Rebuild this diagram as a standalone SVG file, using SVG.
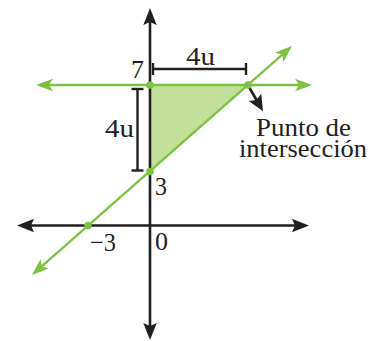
<svg xmlns="http://www.w3.org/2000/svg" width="375" height="341" viewBox="0 0 375 341">
<style>
.ax{stroke:#231f20;stroke-width:2.6;fill:none}
.gl{stroke:#7cc142;stroke-width:2.3;fill:none}
.dim{stroke:#231f20;stroke-width:2.4;fill:none}
.dot{fill:#7cc142}
text{font-family:"Liberation Serif","Times New Roman",serif;font-size:26px;fill:#231f20}
</style>
<defs>
<marker id="ak" viewBox="-18 -7 19 14" refX="-8" refY="0" markerWidth="19" markerHeight="14" markerUnits="userSpaceOnUse" orient="auto-start-reverse">
<path d="M0,0 L-17,-6.7 L-14,0 L-17,6.7 Z" fill="#231f20"/>
</marker>
<marker id="ag" viewBox="-18 -7 19 14" refX="-8" refY="0" markerWidth="19" markerHeight="14" markerUnits="userSpaceOnUse" orient="auto-start-reverse">
<path d="M0,0 L-17,-6.3 L-13,0 L-17,6.3 Z" fill="#7cc142"/>
</marker>
<marker id="ap" viewBox="-17 -8 18 16" refX="-6" refY="0" markerWidth="18" markerHeight="16" markerUnits="userSpaceOnUse" orient="auto">
<path d="M0,0 L-16,-7.2 L-13,0 L-16,7.2 Z" fill="#231f20"/>
</marker>
</defs>
<g id="triangle">
<polygon points="150,85 248,85 150,171.5" fill="#c4df9a"/>
</g>
<g id="connectors">
<line id="y-axis" class="ax" x1="150" y1="16" x2="150" y2="332" marker-start="url(#ak)" marker-end="url(#ak)"/>
<line id="x-axis" class="ax" x1="25" y1="225.5" x2="301" y2="225.5" marker-start="url(#ak)" marker-end="url(#ak)"/>
<line id="line-y7" class="gl" x1="44" y1="85" x2="304" y2="85" marker-start="url(#ag)" marker-end="url(#ag)"/>
<line id="line-diag" class="gl" x1="38" y1="269.7" x2="286" y2="51.3" marker-start="url(#ag)" marker-end="url(#ag)"/>
<line id="pointer" class="ax" x1="249" y1="87" x2="260" y2="106" marker-end="url(#ap)"/>
<g id="dim-h">
<line class="dim" x1="153" y1="69" x2="246" y2="69"/>
<line class="dim" x1="153" y1="63" x2="153" y2="75"/>
<line class="dim" x1="246" y1="63" x2="246" y2="75"/>
</g>
<g id="dim-v">
<line class="dim" x1="137.5" y1="89" x2="137.5" y2="170.5"/>
<line class="dim" x1="131.5" y1="89" x2="143.5" y2="89"/>
<line class="dim" x1="131.5" y1="170.5" x2="143.5" y2="170.5"/>
</g>
</g>
<g id="points">
<circle class="dot" cx="150" cy="85" r="3.8"/>
<circle class="dot" cx="150" cy="171.5" r="3.8"/>
<circle class="dot" cx="88" cy="225.5" r="3.8"/>
<circle class="dot" cx="248" cy="85" r="3.8"/>
</g>
<g id="labels">
<text x="131" y="78" textLength="13" lengthAdjust="spacingAndGlyphs">7</text>
<text x="186" y="65" textLength="29" lengthAdjust="spacingAndGlyphs">4u</text>
<text x="105" y="137" textLength="29" lengthAdjust="spacingAndGlyphs">4u</text>
<text x="155" y="195" textLength="12" lengthAdjust="spacingAndGlyphs">3</text>
<text x="155" y="250" textLength="13" lengthAdjust="spacingAndGlyphs">0</text>
<text x="90" y="251" textLength="26" lengthAdjust="spacingAndGlyphs">−3</text>
<text id="intersection-label"><tspan x="256" y="136" textLength="95" lengthAdjust="spacingAndGlyphs">Punto de</tspan><tspan x="239" y="157" textLength="128" lengthAdjust="spacingAndGlyphs">intersección</tspan></text>
</g>
</svg>
